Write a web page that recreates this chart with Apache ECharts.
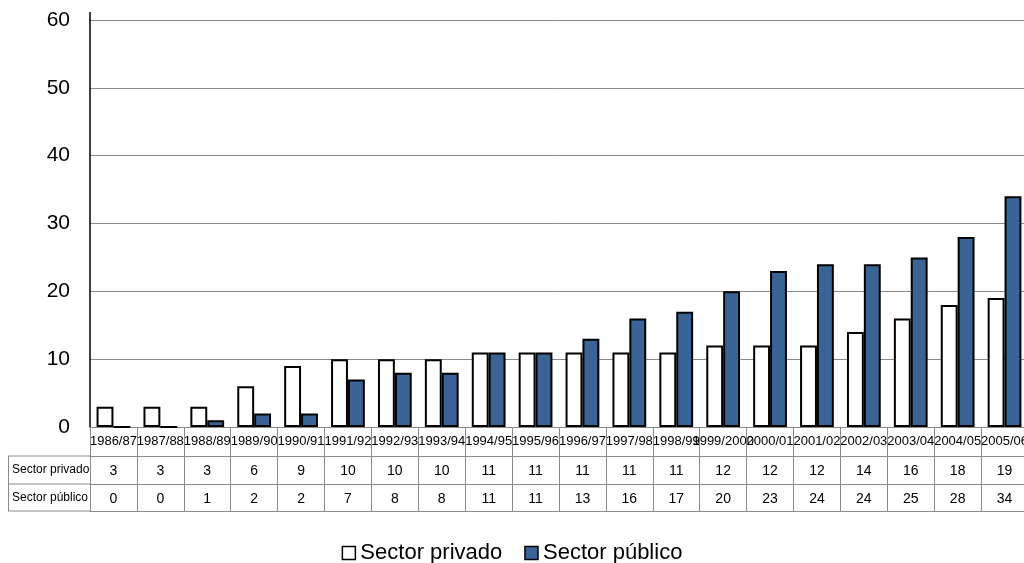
<!DOCTYPE html>
<html>
<head>
<meta charset="utf-8">
<script src="https://cdn.jsdelivr.net/npm/echarts@6/dist/echarts.min.js"></script>
<style>
  html, body { margin: 0; padding: 0; background: #fff; }
  #chart { width: 1024px; height: 563px; }
</style>
</head>
<body>
<div id="chart"></div>
<script>
// Academic years
const years = ['1986/87','1987/88','1988/89','1989/90','1990/91','1991/92','1992/93','1993/94','1994/95','1995/96',
               '1996/97','1997/98','1998/99','1999/2000','2000/01','2001/02','2002/03','2003/04','2004/05','2005/06'];
// Counts per sector
const privado = [3,3,3,6,9,10,10,10,11,11,11,11,11,12,12,12,14,16,18,19];
const publico = [0,0,1,2,2,7,8,8,11,11,13,16,17,20,23,24,24,25,28,34];
const seriesNames = ['Sector privado', 'Sector público'];
const yTicks = { min: 0, max: 60, interval: 10 };

const FONT = 'Liberation Sans, Arial, sans-serif';
const GRID_LEFT = 90, GRID_TOP = 20, GRID_H = 407, GRID_W = 938;
const ROW = [29, 57, 84];      // offsets of the data-table rows below the axis
const LINE = '#8a8a8a';
const BLUE = '#3a6495';

const chart = echarts.init(document.getElementById('chart'), null, { renderer: 'canvas' });

// Category axes stacked below the plot act as the data table rows
function tableAxis(offset, tickLen, values, showLabel, fontSize) {
  return {
    type: 'category', data: years, gridIndex: 0, position: 'bottom', offset: offset,
    axisLine: { show: true, lineStyle: { color: LINE, width: 1 } },
    axisTick: { show: tickLen > 0, length: tickLen, lineStyle: { color: LINE, width: 1 } },
    axisLabel: {
      show: showLabel, interval: 0, margin: 8, color: '#000',
      fontFamily: FONT, fontSize: fontSize || 13, hideOverlap: false,
      formatter: values ? (v, i) => String(values[i]) : (v) => v
    },
    splitLine: { show: false }
  };
}

const tableRowY = (k) => GRID_TOP + GRID_H + ROW[k];

chart.setOption({
  animation: false,
  backgroundColor: '#fff',
  grid: {
    left: GRID_LEFT, top: GRID_TOP, width: GRID_W, height: GRID_H,
    containLabel: false, outerBoundsMode: 'none'
  },
  legend: {
    bottom: -1, left: 'center', padding: 0,
    itemWidth: 13, itemHeight: 13, itemGap: 22,
    textStyle: { fontFamily: FONT, fontSize: 22, color: '#000' },
    data: [
      { name: seriesNames[0], icon: 'rect', itemStyle: { color: '#fff', borderColor: '#000', borderWidth: 1.5 } },
      { name: seriesNames[1], icon: 'rect', itemStyle: { color: BLUE, borderColor: '#000', borderWidth: 1.5 } }
    ]
  },
  xAxis: [
    tableAxis(0, ROW[0], null, true, 13),
    tableAxis(ROW[0], ROW[1] - ROW[0], privado, true, 14),
    tableAxis(ROW[1], ROW[2] - ROW[1], publico, true, 14),
    tableAxis(ROW[2], 0, null, false)
  ],
  yAxis: {
    type: 'value', min: yTicks.min, max: yTicks.max, interval: yTicks.interval,
    axisLine: { show: true, lineStyle: { color: '#000', width: 1.5 } },
    axisTick: { show: false },
    axisLabel: { fontFamily: FONT, fontSize: 21, color: '#000', margin: 20 },
    splitLine: { show: true, lineStyle: { color: LINE, width: 1 } }
  },
  series: [
    {
      name: seriesNames[0], type: 'bar', xAxisIndex: 0, data: privado,
      barGap: '0%', barCategoryGap: '28%',
      itemStyle: { color: '#fff', borderColor: '#000', borderWidth: 2 }
    },
    {
      name: seriesNames[1], type: 'bar', xAxisIndex: 0, data: publico,
      barGap: '0%', barCategoryGap: '28%',
      itemStyle: { color: BLUE, borderColor: '#000', borderWidth: 2 }
    }
  ],
  graphic: [
    // Row-header column of the data table
    { type: 'line', shape: { x1: 8, y1: tableRowY(0), x2: GRID_LEFT, y2: tableRowY(0) }, style: { stroke: LINE, lineWidth: 1 } },
    { type: 'line', shape: { x1: 8, y1: tableRowY(1), x2: GRID_LEFT, y2: tableRowY(1) }, style: { stroke: LINE, lineWidth: 1 } },
    { type: 'line', shape: { x1: 8, y1: tableRowY(2), x2: GRID_LEFT, y2: tableRowY(2) }, style: { stroke: LINE, lineWidth: 1 } },
    { type: 'line', shape: { x1: 8.5, y1: tableRowY(0), x2: 8.5, y2: tableRowY(2) }, style: { stroke: LINE, lineWidth: 1 } },
    { type: 'text', style: { x: 12, y: (tableRowY(0) + tableRowY(1)) / 2, text: seriesNames[0], font: '12px ' + FONT, fill: '#000', verticalAlign: 'middle', align: 'left' } },
    { type: 'text', style: { x: 12, y: (tableRowY(1) + tableRowY(2)) / 2, text: seriesNames[1], font: '12px ' + FONT, fill: '#000', verticalAlign: 'middle', align: 'left' } },
    // y-axis line runs a little above the top gridline
    { type: 'line', shape: { x1: GRID_LEFT, y1: 12, x2: GRID_LEFT, y2: GRID_TOP }, style: { stroke: '#000', lineWidth: 1.5 } }
  ]
});
</script>
</body>
</html>
